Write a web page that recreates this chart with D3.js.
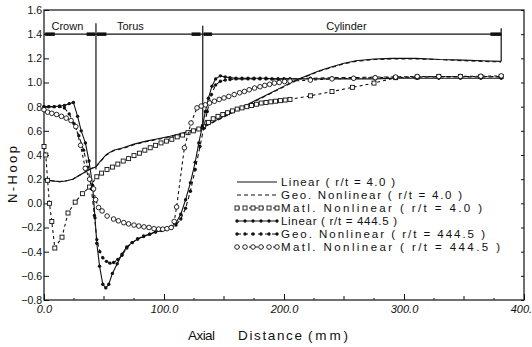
<!DOCTYPE html>
<html>
<head>
<meta charset="utf-8">
<title>N-Hoop vs Axial Distance</title>
<script src="https://d3js.org/d3.v7.min.js"></script>
<style>
	body { margin: 0; background: #fff; }
	svg { display: block; }
	text { fill: #111; font-family: "Liberation Sans", Arial, sans-serif; }
</style>
</head>
<body>
<script>

//---- DATA ----//

	// r/t = 4.0 : linear and geometric nonlinear share the same nodes
	var linX4 = [0, 4, 8, 13, 18, 24, 30, 36, 40, 43, 47, 52, 58, 66, 75, 85, 95, 105, 115, 122, 131, 140, 150, 160, 170, 180, 190, 200, 210, 220, 230, 240, 250, 260, 275, 290, 310, 330, 350, 365, 381];
	var linY4 = [0.2, 0.19, 0.185, 0.18, 0.185, 0.2, 0.235, 0.27, 0.29, 0.3, 0.35, 0.405, 0.44, 0.46, 0.49, 0.515, 0.535, 0.555, 0.58, 0.6, 0.625, 0.67, 0.72, 0.77, 0.82, 0.87, 0.92, 0.97, 1.02, 1.06, 1.1, 1.13, 1.16, 1.18, 1.195, 1.2, 1.2, 1.19, 1.185, 1.18, 1.175];
	var geoY4 = [0.2, 0.19, 0.185, 0.18, 0.185, 0.2, 0.235, 0.27, 0.29, 0.3, 0.345, 0.4, 0.435, 0.455, 0.485, 0.51, 0.53, 0.55, 0.575, 0.595, 0.62, 0.665, 0.715, 0.765, 0.815, 0.865, 0.915, 0.965, 1.015, 1.055, 1.095, 1.125, 1.155, 1.175, 1.19, 1.195, 1.195, 1.19, 1.18, 1.175, 1.17];

	var matX4 = [0, 1.5, 3, 4.5, 6.5, 9, 15, 20, 26, 32, 38, 44, 48, 52.5, 57, 61.5, 66, 70.5, 75, 79.5, 84, 88.5, 93, 97.5, 102, 106.5, 111, 115.5, 120, 124.5, 129, 133, 137, 141, 145, 149, 153, 157, 161, 165, 169, 173, 177, 181, 185, 189, 193, 197, 201, 205, 222, 240, 257, 275, 293, 311, 329, 347, 364, 381];
	var matY4 = [0.47, 0.4, 0.19, 0.0, -0.15, -0.37, -0.28, -0.08, 0.01, 0.08, 0.135, 0.22, 0.25, 0.28, 0.3, 0.325, 0.35, 0.37, 0.395, 0.415, 0.44, 0.46, 0.48, 0.5, 0.515, 0.53, 0.55, 0.565, 0.585, 0.6, 0.615, 0.635, 0.67, 0.7, 0.72, 0.735, 0.75, 0.765, 0.78, 0.79, 0.8, 0.81, 0.82, 0.83, 0.835, 0.84, 0.845, 0.85, 0.855, 0.86, 0.89, 0.925, 0.96, 0.995, 1.04, 1.045, 1.05, 1.05, 1.05, 1.05];

	// r/t = 444.5
	var linX444 = [0, 4, 8.5, 13, 17, 21, 24.5, 28, 31, 34.5, 37.5, 40.5, 42.5, 44, 46.3, 49, 51.5, 54, 57, 61, 65, 69, 73.5, 78, 83, 88, 93, 98, 102, 106, 110, 114, 118, 122, 126, 129, 132, 134.5, 137, 140, 143, 147, 151, 155, 160, 165, 170, 175, 180, 185, 190, 195, 200, 205, 222, 240, 258, 276, 293, 311, 329, 347, 364, 381];
	var linY444 = [0.8, 0.8, 0.8, 0.805, 0.81, 0.825, 0.835, 0.72, 0.6, 0.5, 0.35, 0.15, -0.12, -0.33, -0.52, -0.67, -0.7, -0.67, -0.58, -0.5, -0.42, -0.36, -0.325, -0.295, -0.275, -0.255, -0.235, -0.22, -0.212, -0.195, -0.16, -0.09, 0.03, 0.17, 0.34, 0.5, 0.64, 0.76, 0.87, 0.97, 1.03, 1.055, 1.045, 1.04, 1.035, 1.035, 1.035, 1.035, 1.035, 1.035, 1.03, 1.03, 1.03, 1.03, 1.03, 1.03, 1.03, 1.03, 1.035, 1.035, 1.035, 1.035, 1.035, 1.035];

	var geoX444 = [0, 4, 8.5, 13, 17, 21, 25, 29, 33, 36.5, 39.5, 42, 44, 46.5, 49, 52, 55, 58, 61.5, 65, 69, 73.5, 78, 83, 88, 93, 98, 102, 106, 110, 114, 118, 122, 126, 130, 133, 136, 139.5, 143, 147, 151, 155, 160, 165, 170, 175, 180, 185, 190, 195, 200, 205, 222, 240, 258, 276, 293, 311, 329, 347, 364, 381];
	var geoY444 = [0.8, 0.8, 0.8, 0.8, 0.79, 0.74, 0.66, 0.56, 0.44, 0.3, 0.12, -0.1, -0.3, -0.4, -0.45, -0.48, -0.495, -0.49, -0.465, -0.43, -0.37, -0.325, -0.295, -0.27, -0.255, -0.237, -0.225, -0.215, -0.205, -0.18, -0.13, -0.04, 0.1, 0.28, 0.47, 0.62, 0.76, 0.9, 0.98, 1.01, 1.02, 1.025, 1.03, 1.03, 1.03, 1.03, 1.03, 1.03, 1.03, 1.03, 1.03, 1.03, 1.035, 1.04, 1.04, 1.045, 1.045, 1.045, 1.045, 1.045, 1.045, 1.045];

	var matX444 = [0, 3, 6.5, 10.5, 14.5, 18.5, 22.5, 26.5, 30.5, 34.4, 38, 41.3, 43, 45.5, 48.4, 52.6, 58, 62, 66.5, 70.5, 75, 79, 83.3, 87.5, 91.7, 95.5, 99, 102.5, 106, 108.5, 110.5, 117, 122.5, 127.5, 131, 134.5, 138, 142, 146, 150, 154, 158.5, 163, 167, 171, 175.5, 180, 184, 188, 192, 196, 200.5, 205, 222, 240, 258, 276, 293, 311, 329, 347, 364, 381];
	var matY444 = [0.775, 0.755, 0.745, 0.735, 0.72, 0.705, 0.685, 0.635, 0.48, 0.29, 0.2, 0.12, 0.03, -0.035, -0.063, -0.105, -0.13, -0.145, -0.16, -0.17, -0.18, -0.188, -0.195, -0.2, -0.21, -0.213, -0.214, -0.21, -0.2, -0.15, -0.03, 0.46, 0.665, 0.79, 0.805, 0.815, 0.83, 0.845, 0.86, 0.872, 0.885, 0.9, 0.915, 0.926, 0.94, 0.954, 0.965, 0.976, 0.985, 0.995, 1.0, 1.008, 1.012, 1.02, 1.03, 1.035, 1.04, 1.045, 1.05, 1.05, 1.05, 1.052, 1.055];

	var legendNames = [
		"Linear ( r/t = 4.0 )",
		"Geo. Nonlinear ( r/t = 4.0 )",
		"Matl. Nonlinear ( r/t = 4.0 )",
		"Linear ( r/t = 444.5 )",
		"Geo. Nonlinear ( r/t = 444.5 )",
		"Matl. Nonlinear ( r/t = 444.5 )"
	];

	// region bracket along N-Hoop = 1.4
	var regionNames = ["Crown", "Torus", "Cylinder"];
	var regionCenters = [19.5, 72, 252];
	var bracketLevel = 1.4;
	var dividerX = [43.3, 132.3, 381];
	var dividerTop = [1.49, 1.47, 1.45];
	var dividerBottom = [0.28, 0.62, 1.175];
	var arrowSegs = [[1, 9], [35.5, 42.5], [44, 52], [123, 130.5], [133, 140], [372, 381]];

	var xTicks = [0, 100, 200, 300, 400];
	var yTicks = [-0.8, -0.6, -0.4, -0.2, 0.0, 0.2, 0.4, 0.6, 0.8, 1.0, 1.2, 1.4, 1.6];

//---- LAYOUT ----//

	var W = 532, H = 347;
	var plotL = 44, plotR = 524, plotT = 10, plotB = 300;
	var ink = "#111";

	var svg = d3.select("body").append("svg")
		.attr("width", W)
		.attr("height", H);

	var x = d3.scaleLinear().domain([0, 400]).range([plotL, plotR]);
	var y = d3.scaleLinear().domain([-0.8, 1.6]).range([plotB, plotT]);

	var series = [
		{ xs: linX4,   ys: linY4,   dash: null,  marker: "none"   },
		{ xs: linX4,   ys: geoY4,   dash: "4,3", marker: "none"   },
		{ xs: matX4,   ys: matY4,   dash: "3,3", marker: "square" },
		{ xs: linX444, ys: linY444, dash: null,  marker: "dot"    },
		{ xs: geoX444, ys: geoY444, dash: "4,3", marker: "dot"    },
		{ xs: matX444, ys: matY444, dash: "3,3", marker: "circle" }
	];

	function drawMarkers(sel, kind) {
		if (kind == "square") {
			sel.append("rect")
				.attr("x", function(d) { return d[0] - 2; })
				.attr("y", function(d) { return d[1] - 2; })
				.attr("width", 4).attr("height", 4)
				.attr("fill", "#fff").attr("stroke", ink).attr("stroke-width", 0.9);
		} else if (kind == "circle") {
			sel.append("circle")
				.attr("cx", function(d) { return d[0]; })
				.attr("cy", function(d) { return d[1]; })
				.attr("r", 2.3)
				.attr("fill", "#fff").attr("stroke", ink).attr("stroke-width", 0.9);
		} else if (kind == "dot") {
			sel.append("circle")
				.attr("cx", function(d) { return d[0]; })
				.attr("cy", function(d) { return d[1]; })
				.attr("r", 1.7)
				.attr("fill", ink);
		}
	}

//---- AXES ----//

	// frame
	svg.append("rect")
		.attr("x", plotL).attr("y", plotT)
		.attr("width", plotR - plotL).attr("height", plotB - plotT)
		.attr("fill", "none").attr("stroke", ink).attr("stroke-width", 1.2);

	// x ticks: 25 / 50 / 100 steps, pointing inward
	var minorX = d3.range(25, 400, 25).filter(function(v) { return v % 100 != 0; });
	svg.append("g").selectAll("line")
		.data(minorX).enter().append("line")
		.attr("x1", function(d) { return x(d); }).attr("x2", function(d) { return x(d); })
		.attr("y1", plotB).attr("y2", function(d) { return plotB - (d % 50 == 0 ? 4 : 2); })
		.attr("stroke", ink).attr("stroke-width", 1);

	var xAxis = svg.append("g")
		.attr("transform", "translate(0," + plotB + ")")
		.call(d3.axisBottom(x).tickValues(xTicks).tickSizeInner(-6).tickSizeOuter(0).tickPadding(5).tickFormat(d3.format(".1f")));
	xAxis.select(".domain").remove();
	xAxis.selectAll("line").attr("stroke", ink);
	xAxis.selectAll("text").attr("font-size", 11).attr("font-style", "italic")
		.attr("font-family", "Liberation Sans, Arial, sans-serif").attr("fill", ink);

	var yAxis = svg.append("g")
		.attr("transform", "translate(" + plotL + ",0)")
		.call(d3.axisLeft(y).tickValues(yTicks).tickSizeInner(-5).tickSizeOuter(0).tickPadding(2).tickFormat(d3.format(".1f")));
	yAxis.select(".domain").remove();
	yAxis.selectAll("line").attr("stroke", ink);
	yAxis.selectAll("text").attr("font-size", 10.5)
		.attr("font-family", "Liberation Sans, Arial, sans-serif").attr("fill", ink);

	var yAxisR = svg.append("g")
		.attr("transform", "translate(" + plotR + ",0)")
		.call(d3.axisRight(y).tickValues(yTicks).tickSizeInner(-3).tickSizeOuter(0).tickFormat(""));
	yAxisR.select(".domain").remove();
	yAxisR.selectAll("line").attr("stroke", ink);

	// axis titles
	svg.append("text")
		.attr("transform", "translate(17,174.5) rotate(-90)")
		.attr("text-anchor", "middle")
		.attr("font-size", 13)
		.attr("textLength", 57).attr("lengthAdjust", "spacing")
		.text("N-Hoop");

	var titleWords = ["Axial", "Distance", "(mm)"];
	var titleStart = [188, 238, 308];
	var titleWidth = [27, 64, 40];
	svg.append("g").selectAll("text")
		.data(titleWords).enter().append("text")
		.attr("x", function(d, i) { return titleStart[i]; })
		.attr("y", 340)
		.attr("font-size", 13.5)
		.attr("textLength", function(d, i) { return titleWidth[i]; })
		.attr("lengthAdjust", "spacing")
		.text(function(d) { return d; });

//---- REGION BRACKET ----//

	var br = svg.append("g").attr("stroke", ink).attr("fill", "none");
	br.append("line")
		.attr("x1", x(0)).attr("x2", x(dividerX[2]))
		.attr("y1", y(bracketLevel)).attr("y2", y(bracketLevel))
		.attr("stroke-width", 1.2);
	br.selectAll(".div")
		.data(dividerX).enter().append("line")
		.attr("class", "div")
		.attr("x1", function(d) { return x(d); }).attr("x2", function(d) { return x(d); })
		.attr("y1", function(d, i) { return y(dividerTop[i]); })
		.attr("y2", function(d, i) { return y(dividerBottom[i]); })
		.attr("stroke-width", 1.2);
	br.selectAll(".arr")
		.data(arrowSegs).enter().append("line")
		.attr("class", "arr")
		.attr("x1", function(d) { return x(d[0]); }).attr("x2", function(d) { return x(d[1]); })
		.attr("y1", y(bracketLevel)).attr("y2", y(bracketLevel))
		.attr("stroke-width", 3.5);

	svg.append("g").selectAll("text")
		.data(regionNames).enter().append("text")
		.attr("x", function(d, i) { return x(regionCenters[i]); })
		.attr("y", 30)
		.attr("text-anchor", "middle")
		.attr("font-size", 11)
		.text(function(d) { return d; });

//---- CURVES ----//

	var line = d3.line()
		.x(function(d) { return d[0]; })
		.y(function(d) { return d[1]; });

	series.forEach(function(s) {
		var pts = d3.zip(s.xs, s.ys).map(function(p) { return [x(p[0]), y(p[1])]; });
		svg.append("path")
			.attr("d", line(pts))
			.attr("fill", "none")
			.attr("stroke", ink)
			.attr("stroke-width", 1.1)
			.attr("stroke-dasharray", s.dash);
		if (s.marker != "none") {
			drawMarkers(svg.append("g").selectAll("g").data(pts).enter(), s.marker);
		}
	});

//---- LEGEND ----//

	var legendRowY = [182, 195, 208, 221, 234, 247];
	var legendWidth = [114, 181, 201, 116, 204, 219];
	var sampleX0 = 237, sampleX1 = 277, textX = 281;

	var leg = svg.append("g");
	series.forEach(function(s, i) {
		var ry = legendRowY[i];
		leg.append("line")
			.attr("x1", sampleX0).attr("x2", sampleX1)
			.attr("y1", ry).attr("y2", ry)
			.attr("stroke", ink).attr("stroke-width", 1.1)
			.attr("stroke-dasharray", s.dash);
		if (s.marker != "none") {
			var mk = d3.range(sampleX0, sampleX1 + 1, 8).map(function(px) { return [px, ry]; });
			drawMarkers(leg.append("g").selectAll("g").data(mk).enter(), s.marker);
		}
		leg.append("text")
			.attr("x", textX).attr("y", ry + 4)
			.attr("font-size", 11.5)
			.attr("textLength", legendWidth[i]).attr("lengthAdjust", "spacing")
			.text(legendNames[i]);
	});

</script>
</body>
</html>
